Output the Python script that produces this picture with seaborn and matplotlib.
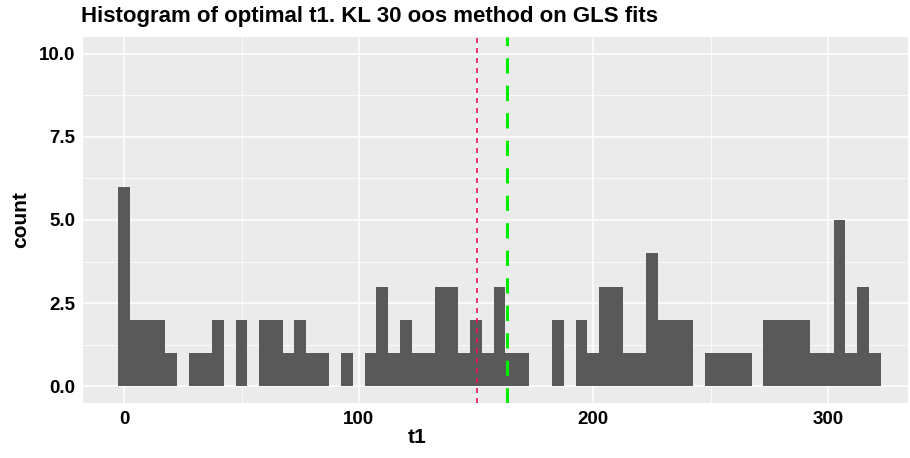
"""Histogram of optimal t1 (KL 30 oos method on GLS fits), ggplot-like look."""

import matplotlib
matplotlib.use("Agg")
import matplotlib.pyplot as plt
import pandas as pd
import seaborn as sns
from matplotlib.ticker import MultipleLocator

# bin centres (width 5) and counts
BIN_CENTERS = [0, 5, 10, 15, 20, 25, 30, 35, 40, 45, 50, 55, 60, 65, 70, 75, 80, 85, 90, 95,
               100, 105, 110, 115, 120, 125, 130, 135, 140, 145, 150, 155, 160, 165, 170,
               175, 180, 185, 190, 195, 200, 205, 210, 215, 220, 225, 230, 235, 240, 245,
               250, 255, 260, 265, 270, 275, 280, 285, 290, 295, 300, 305, 310, 315, 320]
COUNTS = [6, 2, 2, 2, 1, 0, 1, 1, 2, 0, 2, 0, 2, 2, 1, 2, 1, 1, 0, 1,
          0, 1, 3, 1, 2, 1, 1, 3, 3, 1, 2, 1, 3, 1, 1,
          0, 0, 2, 0, 2, 1, 3, 3, 1, 1, 4, 2, 2, 2, 0,
          1, 1, 1, 1, 0, 2, 2, 2, 2, 1, 1, 5, 1, 3, 1]
BINWIDTH = 5
RED_LINE = 150.3
GREEN_LINE = 163.0

X_TICKS = [0, 100, 200, 300]
Y_TICKS = [0.0, 2.5, 5.0, 7.5, 10.0]
TITLE = "Histogram of optimal t1. KL 30 oos method on GLS fits"

df = pd.DataFrame({"t1": BIN_CENTERS, "n": COUNTS})

sns.set_style("darkgrid", {"axes.facecolor": "#EBEBEB", "grid.color": "white"})
plt.rcParams["font.family"] = ["Liberation Sans", "DejaVu Sans"]
plt.rcParams["text.color"] = "black"
plt.rcParams["axes.labelcolor"] = "black"

fig = plt.figure(figsize=(9.10, 4.58), dpi=100)
ax = fig.add_axes([83 / 910, 1 - 403 / 458, 825 / 910, 366 / 458])

sns.histplot(data=df, x="t1", weights="n", binwidth=BINWIDTH,
             binrange=(BIN_CENTERS[0] - BINWIDTH / 2, BIN_CENTERS[-1] + BINWIDTH / 2),
             color="#595959", alpha=1, edgecolor="none", linewidth=0, ax=ax, zorder=2)

ax.axvline(RED_LINE, color="#F0145A", linestyle=(0, (3, 3)), linewidth=1.2, zorder=3)
ax.axvline(GREEN_LINE, color="#00EE00", linestyle=(0, (5, 4)), linewidth=2.2, zorder=3)

ax.set_xlim(-17.6, 334.2)
ax.set_ylim(-0.5, 10.5)
ax.set_xticks(X_TICKS)
ax.set_yticks(Y_TICKS)
ax.set_yticklabels([f"{v:.1f}" for v in Y_TICKS])
ax.xaxis.set_minor_locator(MultipleLocator(50))
ax.yaxis.set_minor_locator(MultipleLocator(1.25))
ax.grid(which="major", color="white", linewidth=1.1, zorder=0)
ax.grid(which="minor", color="white", linewidth=0.55, zorder=0)
ax.set_axisbelow(True)
for s in ax.spines.values():
    s.set_visible(False)

ax.tick_params(axis="both", which="major", length=3.5, width=0.8, color="#333333",
               labelsize=13.5, labelcolor="black", pad=2)
ax.tick_params(axis="both", which="minor", length=0)
for lab in ax.get_xticklabels() + ax.get_yticklabels():
    lab.set_fontweight("bold")

ax.set_xlabel("t1", fontsize=15, fontweight="bold")
ax.set_ylabel("count", fontsize=15, fontweight="bold")
ax.xaxis.set_label_coords((417 - 83) / 825, -0.068)
ax.yaxis.set_label_coords(-0.064, 0.5)

fig.text(81 / 910, 1 - 22 / 458, TITLE, fontsize=16, fontweight="bold",
         va="baseline", ha="left")

fig.savefig("out.png", dpi=100)
